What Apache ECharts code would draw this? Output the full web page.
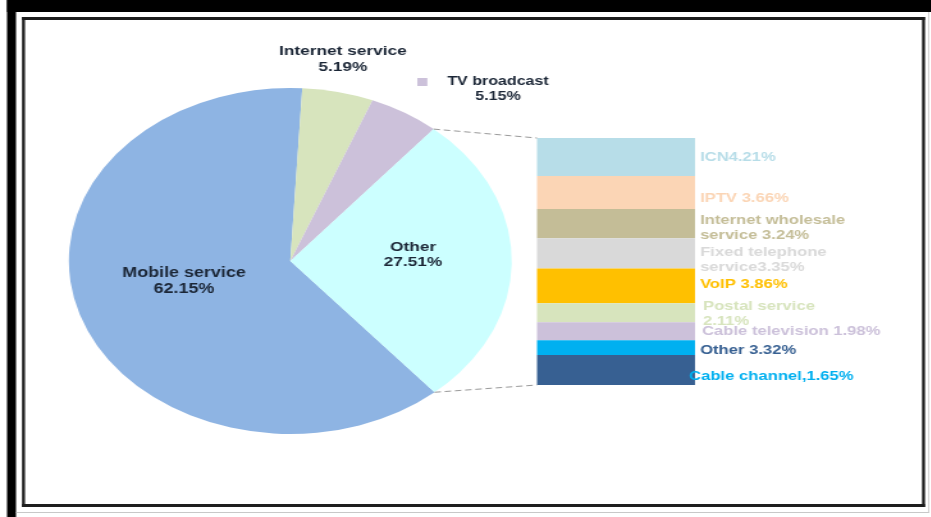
<!DOCTYPE html>
<html>
<head>
<meta charset="utf-8">
<script src="https://cdn.jsdelivr.net/npm/echarts@6/dist/echarts.min.js"></script>
<style>
  html, body { margin: 0; padding: 0; background: #fff; }
  /* the source picture is stretched sideways, so the chart is too */
  #chart { width: 727.34px; height: 517px; transform: scaleX(1.28); transform-origin: 0 0; }
</style>
</head>
<body>
<div id="chart"></div>
<script>
const SX = 1.28

// main pie
const pieNames = ["Mobile service", "Internet service", "TV broadcast", "Other"]
const pieValues = [62.15, 5.19, 5.15, 27.51]
const pieColors = ["#8EB4E3", "#D7E4BD", "#CCC1DA", "#CCFFFF"]

// breakdown of "Other", top to bottom
const otherNames = [
  "ICN", "IPTV", "Internet wholesale service", "Fixed telephone service", "VoIP",
  "Postal service", "Cable television", "Cable channel", "Other",
]
const otherValues = [4.21, 3.66, 3.24, 3.35, 3.86, 2.11, 1.98, 1.65, 3.32]
const otherLabelText = [
  "ICN", "IPTV ", "Internet wholesale\nservice ", "Fixed telephone\nservice", "VoIP ",
  "Postal service\n", "Cable television ", "Cable channel,", "Other ",
]
const otherColors = [
  "#B7DDE8", "#FBD5B5", "#C4BD97", "#D9D9D9", "#FFC000",
  "#D7E4BD", "#CCC1DA", "#00B0F0", "#376092",
]

const font = "'Liberation Sans', Arial, sans-serif"
const ink = "#1B2636"

// layout, in screen pixels
const cx = 290.3 / SX, cy = 261, R = 173
const START = 310.64
const grid = { left: 537 / SX, top: 138, width: 158 / SX, height: 247 }
const pieLabelAt = [[184, 281], [343, 59.5], [483, 89.5], [413, 255]]
const barLabelNudge = [[0, 0], [0, 5.5], [0, 4], [0, 6.5], [0, -1], [3, 1.5], [2, 0.5], [-11, 28.4], [0, -19.3]]

const chart = echarts.init(document.getElementById("chart"), null, { renderer: "canvas" })

const rect = (x, y, w, h, fill) => ({
  type: "rect", silent: true, z: 0,
  shape: { x: x / SX, y, width: w / SX, height: h },
  style: { fill },
})

const total = pieValues.reduce((a, b) => a + b, 0)
const beforeOther = pieValues.slice(0, 3).reduce((a, b) => a + b, 0)
const edge = (cum) => {
  const a = ((START - (360 * cum) / total) * Math.PI) / 180
  return [cx + R * Math.cos(a), cy - R * Math.sin(a)]
}
const connector = (from, to) => ({
  type: "line", silent: true, z: 5,
  shape: { x1: from[0], y1: from[1], x2: to[0], y2: to[1] },
  style: { stroke: "#9a9a9a", lineWidth: 1, lineDash: [5, 3] },
})

chart.setOption({
  animation: false,
  backgroundColor: "#fff",
  textStyle: { fontFamily: font },
  grid: grid,
  xAxis: { type: "category", data: ["Other"], show: false },
  yAxis: { type: "value", inverse: true, min: 0, max: "dataMax", show: false },
  graphic: [
    rect(7, 0, 924, 12, "#000"),
    rect(7, 0, 9, 517, "#000"),
    rect(16, 512, 913, 1, "#c8c8c8"),
    rect(928, 12, 1, 501, "#c8c8c8"),
    rect(22, 17, 903, 3, "#1e1e1e"),
    rect(22, 504, 903, 3, "#1e1e1e"),
    rect(22, 17, 3, 490, "#1e1e1e"),
    rect(922, 17, 3, 490, "#1e1e1e"),
    connector(edge(beforeOther), [grid.left, grid.top]),
    connector(edge(total), [grid.left, grid.top + grid.height]),
  ],
  series: [
    {
      type: "pie",
      center: [cx, cy],
      radius: R,
      startAngle: START,
      clockwise: true,
      avoidLabelOverlap: false,
      itemStyle: { borderWidth: 0 },
      label: {
        show: true,
        position: "inside",
        formatter: "{b}\n{c}%",
        color: ink,
        fontSize: 13.5,
        fontWeight: "bold",
        lineHeight: 15.5,
        align: "center",
      },
      labelLine: { show: false },
      labelLayout: (p) => ({
        x: pieLabelAt[p.dataIndex][0] / SX,
        y: pieLabelAt[p.dataIndex][1],
        align: "center",
        verticalAlign: "middle",
      }),
      emphasis: { disabled: true },
      data: pieNames.map((name, i) => ({
        name,
        value: pieValues[i],
        itemStyle: { color: pieColors[i] },
        label:
          i === 0
            ? { fontSize: 14, lineHeight: 16 }
            : i === 2
              ? {
                  fontSize: 12.5,
                  lineHeight: 15,
                  formatter: "{key|}{gap|}{b}\n{pad|}{c}%",
                  rich: {
                    key: { width: 10 / SX, height: 8, backgroundColor: pieColors[2] },
                    gap: { width: 20 / SX },
                    pad: { width: 30 / SX },
                  },
                }
              : {},
      })),
    },
    ...otherValues.map((v, i) => ({
      name: otherNames[i],
      type: "bar",
      stack: "other",
      barWidth: "100%",
      emphasis: { disabled: true },
      itemStyle: { color: otherColors[i] },
      label: {
        show: true,
        position: "right",
        distance: 5 / SX,
        offset: [barLabelNudge[i][0] / SX, barLabelNudge[i][1]],
        formatter: otherLabelText[i] + v.toFixed(2) + "%",
        color: otherColors[i],
        fontSize: 13,
        fontWeight: "bold",
        lineHeight: 15,
      },
      data: [v],
    })),
  ],
})
</script>
</body>
</html>
